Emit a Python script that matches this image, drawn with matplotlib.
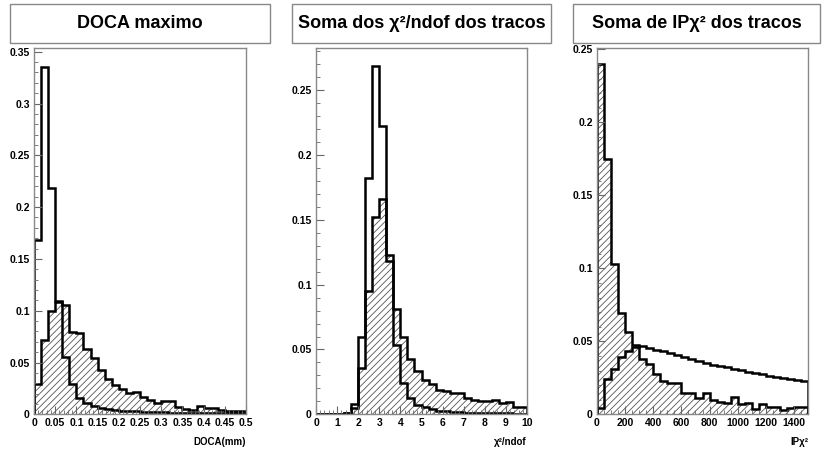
import numpy as np
import matplotlib
matplotlib.use('Agg')
import matplotlib.pyplot as plt
from matplotlib.patches import Rectangle
from matplotlib.ticker import MultipleLocator, FuncFormatter

plt.rcParams['font.family'] = ['Liberation Sans', 'DejaVu Sans']
plt.rcParams['hatch.linewidth'] = 0.6

# DOCA maximo (30 bins, 0 - 0.5 mm)
doca_edges = np.linspace(0, 0.5, 31)
doca_open = [0.168, 0.335, 0.218, 0.109, 0.0556, 0.029, 0.016, 0.011, 0.008, 0.006,
             0.005, 0.004, 0.0035, 0.003, 0.0028, 0.0025, 0.0022, 0.002, 0.0018, 0.0016,
             0.0015, 0.0014, 0.0013, 0.0012, 0.0011, 0.001, 0.001, 0.0009, 0.0009, 0.0008]
doca_hatch = [0.029, 0.0716, 0.100, 0.108, 0.1055, 0.079, 0.078, 0.0626, 0.054, 0.0426,
              0.0345, 0.0287, 0.0242, 0.021, 0.022, 0.0168, 0.0135, 0.011, 0.013, 0.013,
              0.007, 0.005, 0.0045, 0.0077, 0.0065, 0.0065, 0.0045, 0.003, 0.003, 0.003]

# Soma dos chi2/ndof (30 bins, 0 - 10)
chi_edges = np.linspace(0, 10, 31)
chi_open = [0, 0, 0, 0, 0.001, 0.008, 0.060, 0.182, 0.269, 0.222,
            0.118, 0.0535, 0.0244, 0.0129, 0.0072, 0.0054, 0.0039, 0.0028, 0.0022, 0.0018,
            0.0015, 0.0013, 0.0012, 0.0011, 0.001, 0.0009, 0.0008, 0.0007, 0.0006, 0.0006]
chi_hatch = [0, 0, 0, 0, 0.001, 0.005, 0.036, 0.095, 0.152, 0.166,
             0.123, 0.081, 0.060, 0.043, 0.0334, 0.0265, 0.0234, 0.0188, 0.0177, 0.0167,
             0.0162, 0.0129, 0.011, 0.0103, 0.0103, 0.011, 0.009, 0.0098, 0.006, 0.006]

# Soma de IPchi2 (30 bins, 0 - 1500)
ip_edges = np.linspace(0, 1500, 31)
ip_open = [0.0046, 0.024, 0.0308, 0.0395, 0.0436, 0.0463, 0.0467, 0.0452, 0.044, 0.0432,
           0.0418, 0.0406, 0.039, 0.0379, 0.0365, 0.035, 0.0338, 0.0331, 0.0322, 0.0313,
           0.0304, 0.029, 0.0281, 0.0274, 0.0263, 0.0256, 0.0247, 0.0242, 0.0235, 0.0226]
ip_hatch = [0.2397, 0.175, 0.103, 0.0696, 0.0562, 0.0475, 0.0377, 0.0342, 0.0274, 0.0228,
            0.0217, 0.0217, 0.0144, 0.0144, 0.011, 0.0144, 0.0098, 0.0087, 0.0075, 0.0116,
            0.0071, 0.008, 0.0037, 0.0071, 0.0053, 0.0048, 0.003, 0.0041, 0.0053, 0.0048]

titles = ['DOCA maximo', 'Soma dos χ²/ndof dos tracos', 'Soma de IPχ² dos tracos']
xlabels = ['DOCA(mm)', 'χ²/ndof', 'IPχ²']

W, H = 824, 454
fig = plt.figure(figsize=(W / 100, H / 100), dpi=100)

# pixel layout: (axes left, axes right, title box left, title box right)
lay = [(34, 246, 10, 270), (316, 527, 292, 551), (597, 808, 573, 820)]
ax_top, ax_bot = 48, 414.3

paineis = [
    (doca_edges, doca_open, doca_hatch, 0.3536, 0.05, 0.01, 0.05, 0.01),
    (chi_edges, chi_open, chi_hatch, 0.2825, 1, 0.2, 0.05, 0.01),
    (ip_edges, ip_open, ip_hatch, 0.251, 200, 50, 0.05, 0.01),
]

def fmt(v, pos):
    return '%g' % round(v, 6)

for i, (edges, h_open, h_hatch, ymax, xmaj, xmin, ymaj, ymin) in enumerate(paineis):
    l, r, bl, br = lay[i]
    ax = fig.add_axes([l / W, (H - ax_bot) / H, (r - l) / W, (ax_bot - ax_top) / H])
    # preenchimento hachurado
    ax.stairs(h_hatch, edges, fill=True, facecolor='white', edgecolor='#555555',
              hatch='/////', linewidth=0)
    ax.stairs(h_hatch, edges, color='black', linewidth=1.8)
    ax.stairs(h_open, edges, color='black', linewidth=1.8)
    ax.set_xlim(edges[0], edges[-1])
    ax.set_ylim(0, ymax)

    ax.xaxis.set_major_locator(MultipleLocator(xmaj))
    ax.xaxis.set_minor_locator(MultipleLocator(xmin))
    ax.yaxis.set_major_locator(MultipleLocator(ymaj))
    ax.yaxis.set_minor_locator(MultipleLocator(ymin))
    ax.xaxis.set_major_formatter(FuncFormatter(fmt))
    ax.yaxis.set_major_formatter(FuncFormatter(fmt))
    ax.tick_params(which='both', direction='in', color='#666666', labelsize=7.5, pad=3)
    ax.tick_params(which='major', length=6, width=0.8)
    ax.tick_params(which='minor', length=3, width=0.6)
    for lab in ax.get_xticklabels() + ax.get_yticklabels():
        lab.set_fontweight('bold')
    for s in ax.spines.values():
        s.set_color('#888888')
        s.set_linewidth(1)
    ax.set_xlabel(xlabels[i], loc='right', fontsize=7, fontweight='bold', labelpad=6)

    # caixa do titulo
    fig.patches.append(Rectangle((bl / W, (H - 43) / H), (br - bl) / W, 39 / H,
                                 transform=fig.transFigure, facecolor='white',
                                 edgecolor='#888888', linewidth=1))
    fig.text((bl + br) / 2 / W, (H - 23.5) / H, titles[i], ha='center', va='center',
             fontsize=13, fontweight='bold')

fig.savefig('out.png', dpi=100)
